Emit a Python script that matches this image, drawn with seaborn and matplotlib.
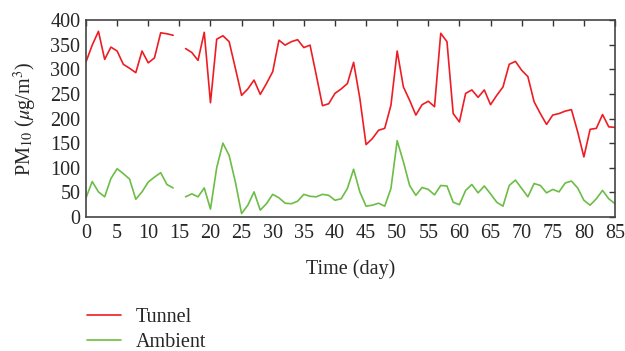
import numpy as np
import pandas as pd
import matplotlib
matplotlib.use("Agg")
import matplotlib.pyplot as plt
import seaborn as sns
from matplotlib.lines import Line2D

days_a = list(range(0, 15))
days_b = list(range(16, 86))

tunnel_a = [315, 349, 377, 320, 345, 337, 310, 302, 293, 337, 313, 323, 374, 372, 369]
tunnel_b = [342, 334, 318, 375, 232, 361, 368, 356, 302, 247, 260, 278, 249, 271, 295,
            359, 349, 356, 360, 344, 349, 288, 226, 230, 251, 260, 271, 314, 241, 147,
            159, 176, 180, 227, 337, 264, 237, 207, 228, 235, 224, 373, 356, 210, 193,
            251, 258, 243, 258, 228, 247, 264, 310, 316, 298, 285, 234, 210, 188, 207,
            210, 215, 218, 173, 122, 178, 180, 208, 183, 182]

ambient_a = [39, 72, 51, 41, 78, 98, 88, 77, 36, 51, 71, 81, 90, 66, 59]
ambient_b = [41, 47, 41, 59, 16, 100, 150, 125, 71, 7, 24, 51, 14, 27, 46,
             39, 28, 27, 32, 46, 42, 41, 46, 44, 34, 37, 58, 97, 51, 22,
             24, 28, 22, 58, 155, 112, 64, 44, 60, 56, 45, 64, 63, 30, 25,
             54, 66, 49, 63, 47, 30, 22, 64, 75, 58, 41, 68, 64, 49, 56,
             51, 69, 73, 59, 34, 24, 37, 54, 37, 27]

series_names = ["Tunnel", "Ambient"]
x_ticks = list(range(0, 90, 5))
y_ticks = list(range(0, 450, 50))

rows = []
for name, a, b in [("Tunnel", tunnel_a, tunnel_b), ("Ambient", ambient_a, ambient_b)]:
    for d, v in zip(days_a, a):
        rows.append((d, v, name, name + "_a"))
    for d, v in zip(days_b, b):
        rows.append((d, v, name, name + "_b"))
df = pd.DataFrame(rows, columns=["day", "pm", "series", "seg"])

sns.set_theme(style="white")
plt.rcParams["font.family"] = ["Liberation Serif", "DejaVu Serif"]
plt.rcParams["mathtext.fontset"] = "stix"

FS = 14.5
fig = plt.figure(figsize=(6.25, 3.51), dpi=100)
ax = fig.add_axes([86 / 625, 1 - 217 / 351, (615 - 86) / 625, (217 - 20) / 351])

palette = {"Tunnel": "#ee1d23", "Ambient": "#6cbd45"}
sns.lineplot(data=df, x="day", y="pm", hue="series", units="seg", estimator=None,
             palette=palette, hue_order=series_names, linewidth=1.2, ax=ax, legend=False)

ax.set_xlim(0, 85)
ax.set_ylim(0, 400)
ax.set_xticks(x_ticks)
ax.set_yticks(y_ticks)
ax.tick_params(direction="in", length=4, width=1.0, color="#333333",
               top=True, right=True, labelsize=FS)
ax.tick_params(axis="x", pad=5)
ax.tick_params(axis="y", pad=4)
for s in ax.spines.values():
    s.set_color("#444444")
    s.set_linewidth(1.2)
ax.set_xlabel("Time (day)", fontsize=FS, labelpad=12)
ax.set_ylabel(r"PM$_{10}$ ($\mu$g/m$^3$)", fontsize=FS, labelpad=8)
ax.grid(False)

handles = [Line2D([], [], color=palette[n], lw=1.2) for n in series_names]
fig.legend(handles, series_names, loc="upper left", bbox_to_anchor=(69 / 625, 1 - 290 / 351),
           frameon=False, fontsize=FS, handlelength=1.7, handletextpad=0.7,
           labelspacing=0.3)

fig.savefig("out.png", dpi=100)
